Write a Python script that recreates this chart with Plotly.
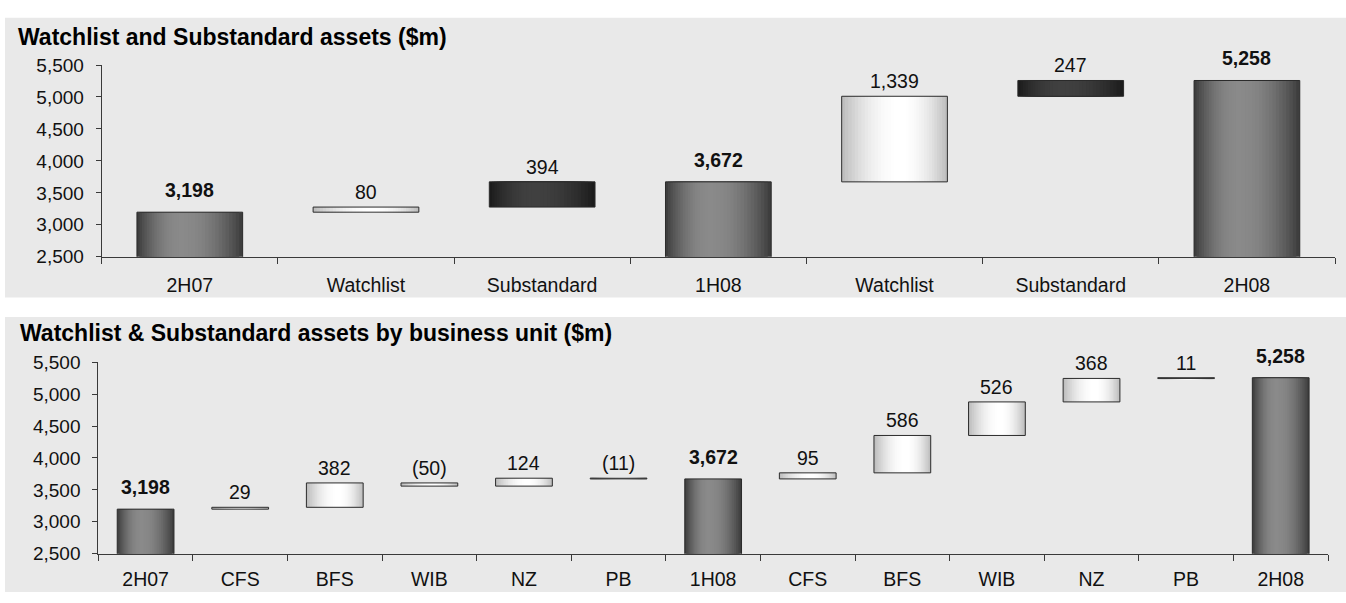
import plotly.graph_objects as go

# ---------------- data ----------------
top_title = "Watchlist and Substandard assets ($m)"
top_labels = ["2H07", "Watchlist", "Substandard", "1H08", "Watchlist", "Substandard", "2H08"]
top_values = [3198, 80, 394, 3672, 1339, 247, 5258]
top_kinds = ["total", "watch", "sub", "total", "watch", "sub", "total"]

bot_title = "Watchlist & Substandard assets by business unit ($m)"
bot_labels = ["2H07", "CFS", "BFS", "WIB", "NZ", "PB", "1H08", "CFS", "BFS", "WIB", "NZ", "PB", "2H08"]
bot_values = [3198, 29, 382, -50, 124, -11, 3672, 95, 586, 526, 368, 11, 5258]
bot_kinds = ["total", "watch", "watch", "watch", "watch", "watch", "total",
             "watch", "watch", "watch", "watch", "watch", "total"]

y_ticks = [2500, 3000, 3500, 4000, 4500, 5000, 5500]

# ---------------- styling ----------------
FONT = "Liberation Sans, Arial, sans-serif"
W = 0.6          # bar width in category units
L = 18           # gradient layers
PAL = {          # edge rgb, highlight rgb, highlight position (fraction from left)
    "total": ((58, 58, 58), (138, 138, 138), 0.42),
    "watch": ((186, 186, 186), (255, 255, 255), 0.56),
    "sub": ((26, 26, 26), (64, 64, 64), 0.42),
}
AXC = "#3a3a3a"
PANEL = "#e9e9e9"


def waterfall(values, kinds):
    bases, run = [], 0
    for v, k in zip(values, kinds):
        if k == "total":
            bases.append(0)
            run = v
        else:
            bases.append(run)
            run += v
    return bases


def mix(a, b, t):
    return "rgb(%d,%d,%d)" % tuple(round(a[i] + (b[i] - a[i]) * t) for i in range(3))


def label_text(v, k):
    if k == "total":
        return "<b>{:,}</b>".format(v)
    return "({:,})".format(-v) if v < 0 else "{:,}".format(v)


fig = go.Figure()
annotations = []


def add_chart(labels, values, kinds, xa, ya):
    xs = list(range(len(labels)))
    bases = waterfall(values, kinds)
    for k in range(L):
        w = W * (1 - k / L)
        x = 1 - (k + 0.5) / L
        t = 1 - x * x
        colors = [mix(PAL[kd][0], PAL[kd][1], t) for kd in kinds]
        offs = [-W / 2 + (W - w) * PAL[kd][2] for kd in kinds]
        fig.add_trace(go.Bar(x=xs, y=values, base=bases, width=w, offset=offs,
                             marker=dict(color=colors, line=dict(width=0)),
                             xaxis=xa, yaxis=ya, showlegend=False, hoverinfo="skip"))
    fig.add_trace(go.Bar(x=xs, y=values, base=bases, width=W,
                         marker=dict(color="rgba(0,0,0,0)", line=dict(color="#2b2b2b", width=1)),
                         xaxis=xa, yaxis=ya, showlegend=False, hoverinfo="skip"))
    for i, (v, b, kd) in enumerate(zip(values, bases, kinds)):
        annotations.append(dict(
            x=i, y=max(b, b + v), xref=xa, yref=ya, text=label_text(v, kd),
            showarrow=False, yanchor="middle", yshift=22 if kd == "total" else 15,
            font=dict(family=FONT, size=19.5, color="#111111")))


add_chart(top_labels, top_values, top_kinds, "x", "y")
add_chart(bot_labels, bot_values, bot_kinds, "x2", "y2")

H = 603.0
Wd = 1346.0


def xaxis(dom, n, labels, anchor, standoff):
    return dict(domain=dom, anchor=anchor, range=[-0.5, n - 0.5],
                tickmode="array", tickvals=list(range(n)), ticktext=labels,
                ticks="", showline=True, linecolor=AXC, linewidth=1,
                showgrid=False, zeroline=False, ticklabelstandoff=standoff,
                tickfont=dict(family=FONT, size=19.5, color="#111111"),
                minor=dict(tickmode="array", tickvals=[i - 0.5 for i in range(n + 1)],
                           ticks="outside", ticklen=6, tickcolor=AXC, tickwidth=1,
                           showgrid=False))


def yaxis(dom, anchor):
    return dict(domain=dom, anchor=anchor, range=[2500, 5500],
                tickmode="array", tickvals=y_ticks, tickformat=",d",
                ticks="outside", ticklen=5, tickcolor=AXC, tickwidth=1,
                showline=True, linecolor=AXC, linewidth=1,
                showgrid=False, zeroline=False, ticklabelstandoff=8,
                tickfont=dict(family=FONT, size=19, color="#111111"))


annotations.append(dict(x=16 / Wd, y=1 - 27.5 / H, xref="paper", yref="paper",
                        xanchor="left", yanchor="middle", showarrow=False,
                        text="<b>%s</b>" % top_title,
                        font=dict(family=FONT, size=23, color="#000000")))
annotations.append(dict(x=18 / Wd, y=1 - 335 / H, xref="paper", yref="paper",
                        xanchor="left", yanchor="middle", showarrow=False,
                        text="<b>%s</b>" % bot_title,
                        font=dict(family=FONT, size=23, color="#000000")))

fig.update_layout(
    width=1346, height=603, autosize=False,
    margin=dict(l=0, r=0, t=0, b=0),
    paper_bgcolor="white", plot_bgcolor="rgba(0,0,0,0)",
    barmode="overlay", showlegend=False,
    xaxis=xaxis([101.7 / Wd, 1335 / Wd], len(top_labels), top_labels, "y", 11),
    yaxis=yaxis([1 - 255.7 / H, 1 - 57 / H], "x"),
    xaxis2=xaxis([98.3 / Wd, 1328 / Wd], len(bot_labels), bot_labels, "y2", 8),
    yaxis2=yaxis([1 - 563.3 / H, 1 - 365 / H], "x2"),
    annotations=annotations,
    shapes=[
        dict(type="rect", xref="paper", yref="paper", x0=5 / Wd, x1=1,
             y0=1 - 298 / H, y1=1 - 8 / H, fillcolor=PANEL, line=dict(width=0), layer="below"),
        dict(type="rect", xref="paper", yref="paper", x0=5 / Wd, x1=1,
             y0=0, y1=1 - 318 / H, fillcolor=PANEL, line=dict(width=0), layer="below"),
    ],
)

fig.write_html("out.html")
